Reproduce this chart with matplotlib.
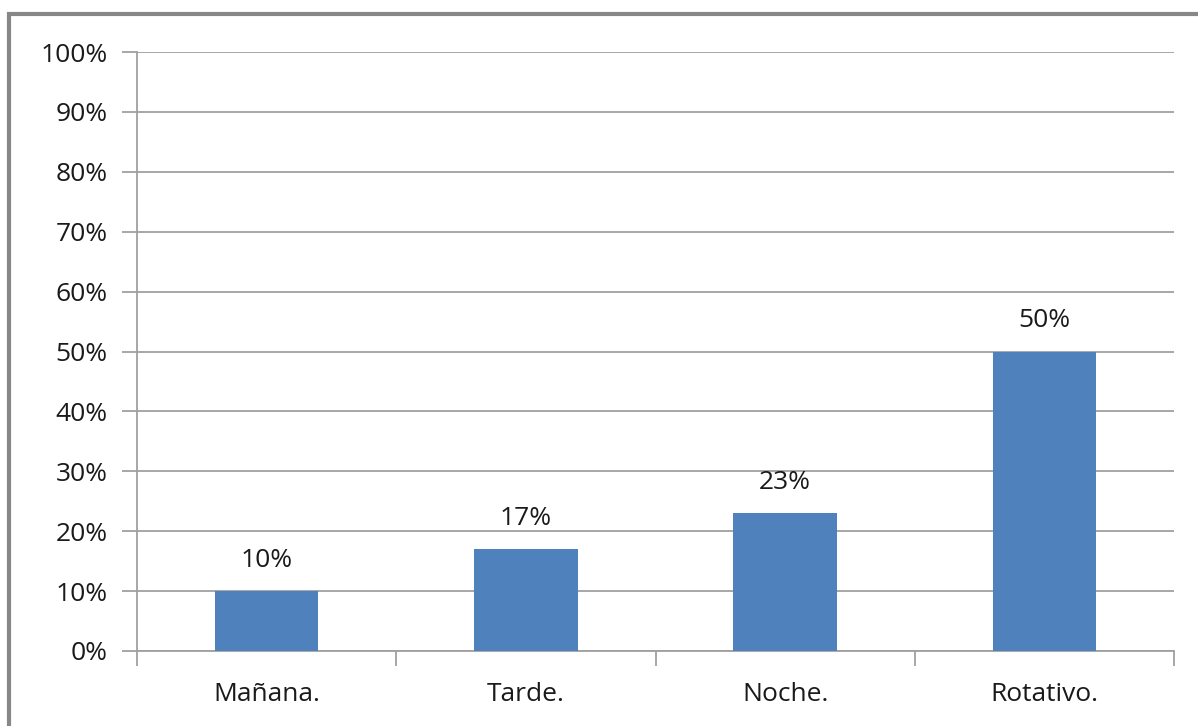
#!/usr/bin/env python3

import numpy as np
import matplotlib.pyplot as plt
from matplotlib.patches import Rectangle
from matplotlib.ticker import FixedLocator

categories = ["Mañana.", "Tarde.", "Noche.", "Rotativo."]
values = [10, 17, 23, 50]
y_ticks = list(range(0, 101, 10))

plt.rcParams['font.family'] = ['Open Sans', 'DejaVu Sans']

fig = plt.figure(figsize=(11.98, 7.26), dpi=100)
ax = fig.add_axes([137 / 1198, 1 - 651 / 726, (1174 - 137) / 1198, (651 - 52) / 726])

# outer chart border, running off the right and bottom edges
fig.patches.append(Rectangle((9 / 1198, -0.1), 1.2, 1 - 14 / 726 + 0.1,
                             transform=fig.transFigure, fill=False,
                             edgecolor='#878787', linewidth=3, zorder=0))

x = np.arange(len(categories))
ax.bar(x, values, width=0.4, color='#4F81BD', zorder=3)
for xi, v in zip(x, values):
    ax.annotate(f"{v}%", (xi, v), xytext=(0, 13), textcoords='offset points',
                ha='center', va='bottom', fontsize=19, color='#1a1a1a')

ax.set_xlim(-0.5, len(categories) - 0.5)
ax.set_ylim(0, 100)
ax.set_yticks(y_ticks)
ax.set_yticklabels([f"{t}%" for t in y_ticks])
ax.set_xticks(x)
ax.set_xticklabels(categories)
ax.xaxis.set_minor_locator(FixedLocator(np.arange(-0.5, len(categories), 1.0)))

ax.grid(axis='y', color='#a0a0a0', linewidth=1.3, zorder=0)
for s in ['top', 'right']:
    ax.spines[s].set_visible(False)
for s in ['left', 'bottom']:
    ax.spines[s].set_color('#a0a0a0')
    ax.spines[s].set_linewidth(1.3)

ax.tick_params(axis='y', length=11, width=1.3, color='#a0a0a0', labelsize=19,
               labelcolor='#1a1a1a', pad=10)
ax.tick_params(axis='x', which='major', length=0, labelsize=19,
               labelcolor='#1a1a1a', pad=22)
ax.tick_params(axis='x', which='minor', length=11, width=1.3, color='#a0a0a0')

fig.savefig("out.png", dpi=100)
